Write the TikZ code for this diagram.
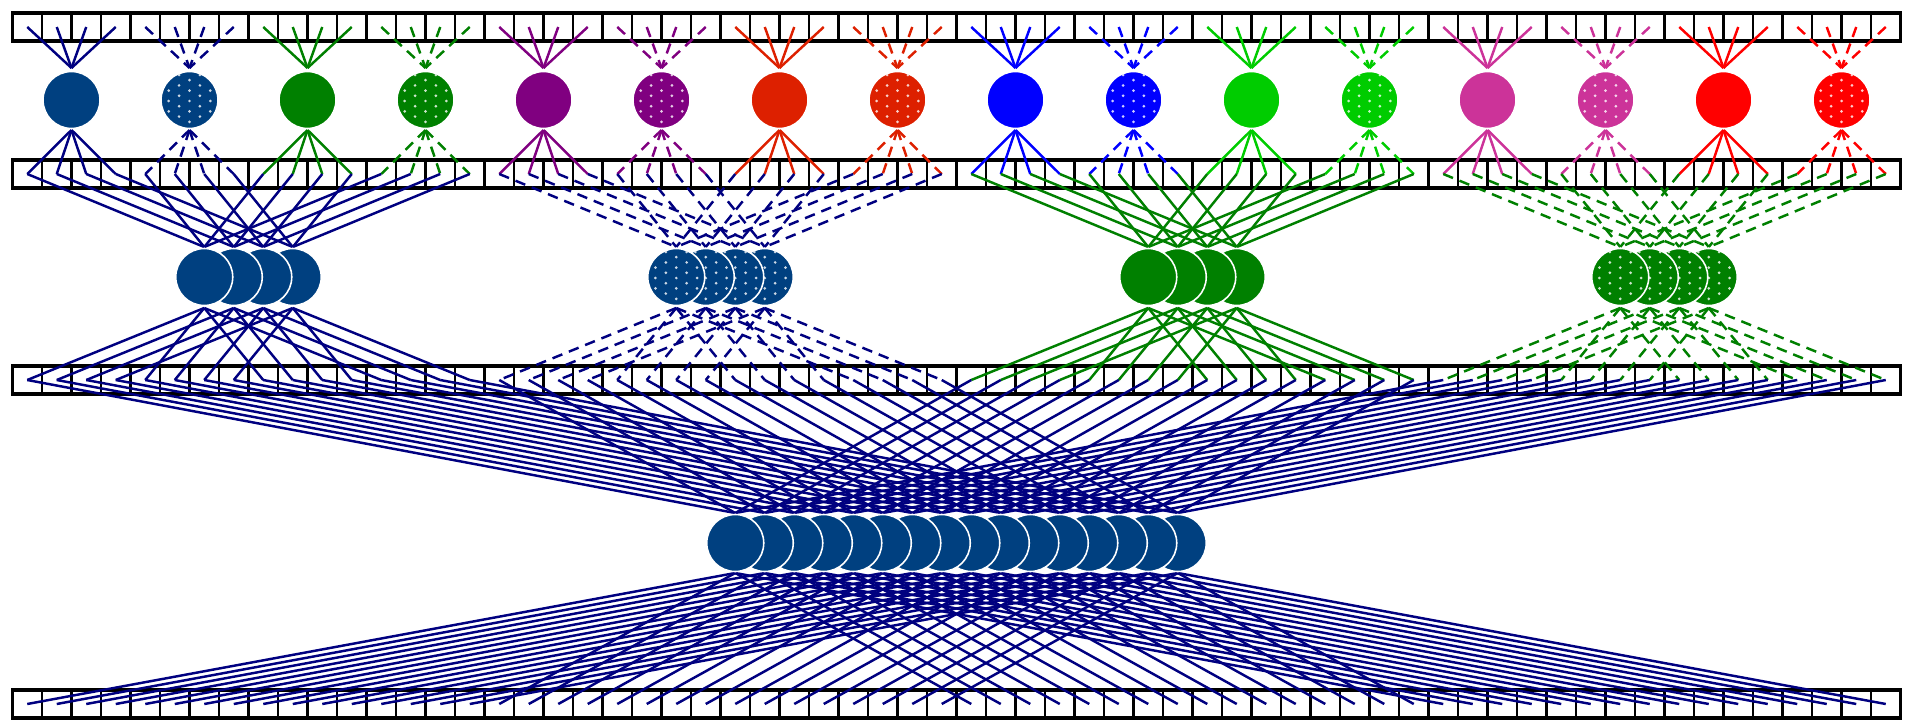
\documentclass[tikz,border=0pt]{standalone}
\usetikzlibrary{calc}
\definecolor{navyline}{RGB}{0,0,128}
\definecolor{navyfill}{RGB}{0,64,128}
\definecolor{cgreen}{RGB}{0,128,0}
\definecolor{cpurple}{RGB}{128,0,128}
\definecolor{corange}{RGB}{221,32,0}
\definecolor{cblue}{RGB}{0,0,255}
\definecolor{clime}{RGB}{0,204,0}
\definecolor{cpink}{RGB}{204,51,153}
\definecolor{cred}{RGB}{255,0,0}
\begin{document}
\begin{tikzpicture}[x=0.02cm,y=-0.02cm,
  plainlink/.style={line width=1.4pt},
  dashlink/.style={line width=1.4pt, dash pattern=on 6pt off 4pt},
  plainunit/.style={},
  speckunit/.style={path picture={
      \foreach \u in {-3,...,3}{
        \foreach \v in {-3,...,4}{
          \pgfmathsetmacro\dy{10.4*\v+1-5.2*mod(abs(\u),2)}
          \fill[white, opacity=0.8]
            ($(path picture bounding box.center)+({10.4*\u},\dy)$) circle[radius=0.85pt];
        }}}},
  unit/.style={circle, inner sep=0pt, minimum size=1.14cm, draw=white, line width=0.9pt},
  rowframe/.style={draw=black, line width=1.9pt, inner sep=0pt,
      minimum width=37.76cm, minimum height=0.56cm},
  divider/.style={draw=black, line width=1.3pt}]
\useasboundingbox (0,0) rectangle (1907,720);

% four strips of 64 cells, each with a named point per cell
\foreach \r/\ya/\yb/\yp in {1/13/41/27, 2/160/188/174, 3/366.5/394.5/380, 4/690/718/704}{
  \foreach \k in {1,...,63}
    \draw[divider] ({12.5+29.5*\k},\ya) -- ({12.5+29.5*\k},\yb);
  \node[rowframe] (row\r) at (956.5,\yp) {};
  \foreach \k in {0,...,63}
    \coordinate (r\r c\k) at ({27.25+29.5*\k},\yp);
}

% first layer: sixteen units, each reading four cells and writing four cells
\foreach \i/\fc/\lc/\ls/\us in {
  0/navyfill/navyline/plainlink/plainunit,
  1/navyfill/navyline/dashlink/speckunit,
  2/cgreen/cgreen/plainlink/plainunit,
  3/cgreen/cgreen/dashlink/speckunit,
  4/cpurple/cpurple/plainlink/plainunit,
  5/cpurple/cpurple/dashlink/speckunit,
  6/corange/corange/plainlink/plainunit,
  7/corange/corange/dashlink/speckunit,
  8/cblue/cblue/plainlink/plainunit,
  9/cblue/cblue/dashlink/speckunit,
  10/clime/clime/plainlink/plainunit,
  11/clime/clime/dashlink/speckunit,
  12/cpink/cpink/plainlink/plainunit,
  13/cpink/cpink/dashlink/speckunit,
  14/cred/cred/plainlink/plainunit,
  15/cred/cred/dashlink/speckunit}{
  \coordinate (ut\i) at ({71.5+118*\i},68);
  \coordinate (ub\i) at ({71.5+118*\i},130);
  \foreach \m in {0,...,3}{
    \pgfmathtruncatemacro\k{4*\i+\m}
    \draw[\ls, \lc] (r1c\k) -- (ut\i);
    \draw[\ls, \lc] (ub\i) -- (r2c\k);
  }
  \node[unit, fill=\fc, \us] (u\i) at ({71.5+118*\i},100) {};
}

% second layer: four stacks of four units
\foreach \g/\fc/\lc/\ls/\us in {
  0/navyfill/navyline/plainlink/plainunit,
  1/navyfill/navyline/dashlink/speckunit,
  2/cgreen/cgreen/plainlink/plainunit,
  3/cgreen/cgreen/dashlink/speckunit}{
  \foreach \j in {0,...,3}{
    \pgfmathsetmacro\gx{27.25+29.5*(16*\g+6+\j)}
    \coordinate (gt\g-\j) at (\gx,247);
    \coordinate (gb\g-\j) at (\gx,308);
    \foreach \m in {0,...,3}{
      \pgfmathtruncatemacro\c{16*\g+4*\m+\j}
      \draw[\ls, \lc] (r2c\c) -- (gt\g-\j);
      \draw[\ls, \lc] (gb\g-\j) -- (r3c\c);
    }
  }
  \foreach \j in {3,2,1,0}{
    \pgfmathsetmacro\gx{27.25+29.5*(16*\g+6+\j)}
    \node[unit, fill=\fc, \us] (g\g-\j) at (\gx,277) {};
  }
}

% third layer: one stack of sixteen units
\foreach \j in {0,...,15}{
  \pgfmathsetmacro\bx{735.25+29.5*\j}
  \coordinate (bt\j) at (\bx,513);
  \coordinate (bb\j) at (\bx,573);
  \foreach \m in {0,...,3}{
    \pgfmathtruncatemacro\c{\j+16*\m}
    \draw[plainlink, navyline] (r3c\c) -- (bt\j);
    \draw[plainlink, navyline] (bb\j) -- (r4c\c);
  }
}
\foreach \j in {15,14,...,0}{
  \pgfmathsetmacro\bx{735.25+29.5*\j}
  \node[unit, fill=navyfill] (big\j) at (\bx,543) {};
}
\end{tikzpicture}
\end{document}
